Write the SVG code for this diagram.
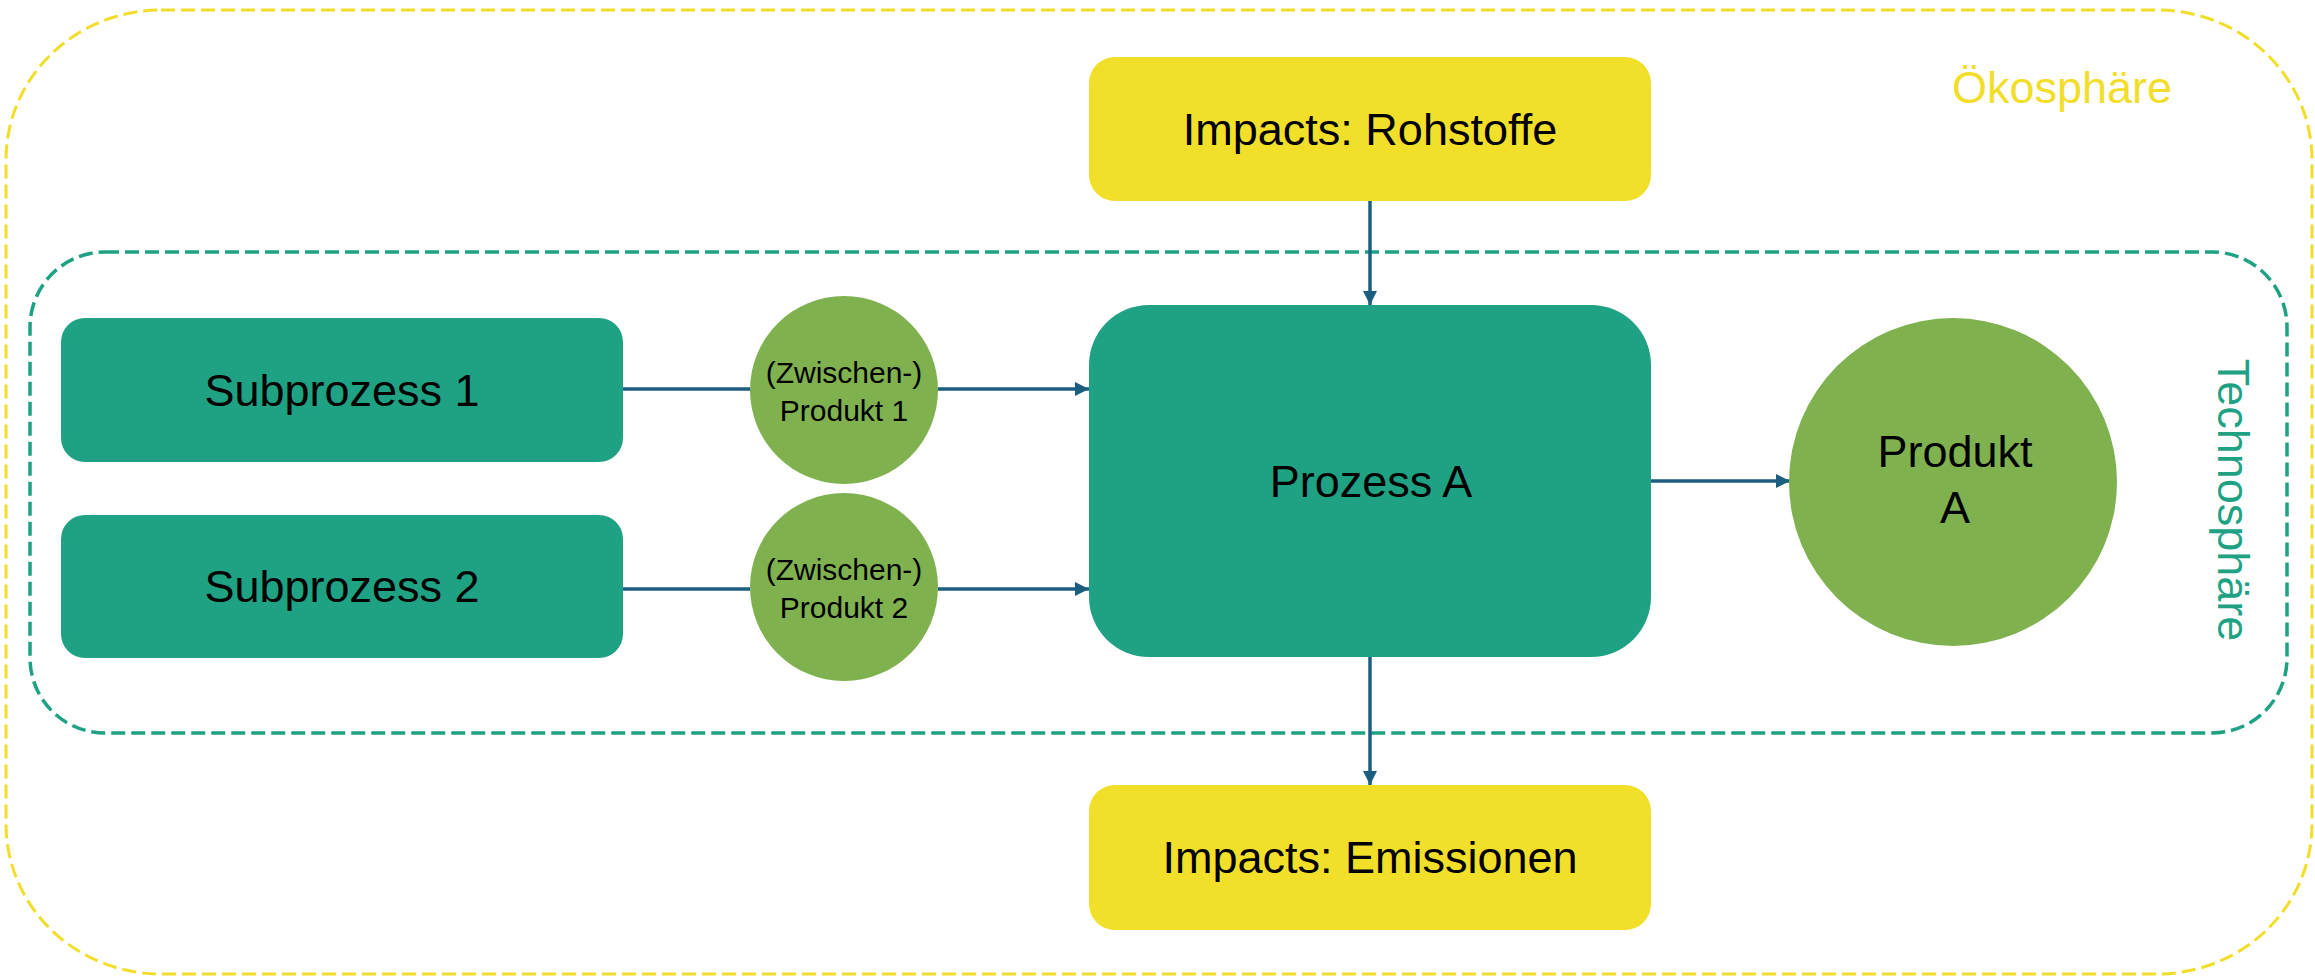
<svg xmlns="http://www.w3.org/2000/svg" width="2315" height="980" viewBox="0 0 2315 980">
<style>
text{font-family:"Liberation Sans",Arial,sans-serif;text-anchor:middle;fill:#000}
.big{font-size:45px}
.small{font-size:30px}
.proc{fill:#1EA283}
.imp{fill:#F2DF2A}
.prod{fill:#7FB24F}
.conn{stroke:#1B5E80;stroke-width:3.5;fill:none}
</style>
<defs>
<marker id="arr" viewBox="0 0 10 10" refX="10" refY="5" markerWidth="4" markerHeight="4" markerUnits="strokeWidth" orient="auto">
<path d="M0,0 L10,5 L0,10 z" fill="#1B5E80"/>
</marker>
</defs>
<g id="oekosphaere">
<rect x="6" y="10" width="2306" height="964" rx="155" ry="150" fill="none" stroke="#F2DE2A" stroke-width="3" stroke-dasharray="14 6"/>
<text class="big" x="2062" y="103" style="fill:#F2DE2A">Ökosphäre</text>
</g>
<g id="technosphaere">
<rect x="30" y="252" width="2257" height="481" rx="75" ry="75" fill="none" stroke="#1EA283" stroke-width="3.5" stroke-dasharray="14 6"/>
<text class="big" transform="translate(2218,500) rotate(90)" x="0" y="0" style="fill:#1EA283">Technosphäre</text>
</g>
<g id="connectors">
<line class="conn" x1="623" y1="389" x2="750" y2="389"/>
<line class="conn" x1="938" y1="389" x2="1089" y2="389" marker-end="url(#arr)"/>
<line class="conn" x1="623" y1="589" x2="750" y2="589"/>
<line class="conn" x1="938" y1="589" x2="1089" y2="589" marker-end="url(#arr)"/>
<line class="conn" x1="1370" y1="201" x2="1370" y2="305" marker-end="url(#arr)"/>
<line class="conn" x1="1370" y1="657" x2="1370" y2="785" marker-end="url(#arr)"/>
<line class="conn" x1="1651" y1="481" x2="1790" y2="481" marker-end="url(#arr)"/>
</g>
<g id="subprozess1">
<rect class="proc" x="61" y="318" width="562" height="144" rx="24"/>
<text class="big" x="342" y="406">Subprozess 1</text>
</g>
<g id="subprozess2">
<rect class="proc" x="61" y="515" width="562" height="143" rx="24"/>
<text class="big" x="342" y="602">Subprozess 2</text>
</g>
<g id="zwischenprodukt1">
<circle class="prod" cx="844" cy="390" r="94"/>
<text class="small" x="844" y="383">(Zwischen-)</text>
<text class="small" x="844" y="421">Produkt 1</text>
</g>
<g id="zwischenprodukt2">
<circle class="prod" cx="844" cy="587" r="94"/>
<text class="small" x="844" y="580">(Zwischen-)</text>
<text class="small" x="844" y="618">Produkt 2</text>
</g>
<g id="rohstoffe">
<rect class="imp" x="1089" y="57" width="562" height="144" rx="26"/>
<text class="big" x="1370" y="145">Impacts: Rohstoffe</text>
</g>
<g id="prozessA">
<rect class="proc" x="1089" y="305" width="562" height="352" rx="60"/>
<text class="big" x="1371" y="497">Prozess A</text>
</g>
<g id="emissionen">
<rect class="imp" x="1089" y="785" width="562" height="145" rx="26"/>
<text class="big" x="1370" y="873">Impacts: Emissionen</text>
</g>
<g id="produktA">
<circle class="prod" cx="1953" cy="482" r="164"/>
<text class="big" x="1955" y="467">Produkt</text>
<text class="big" x="1955" y="523">A</text>
</g>
</svg>
